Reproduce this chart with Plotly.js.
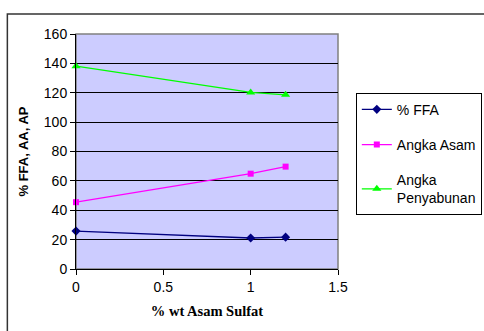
<!DOCTYPE html>
<html><head><meta charset="utf-8">
<script src="https://cdn.plot.ly/plotly-3.0.1.min.js"></script>
<style>body{margin:0;background:#fff}#c{width:484px;height:331px}</style>
</head><body><div id="c"></div>
<script>
const xVals = [0, 1, 1.2];
const ffa = [25.8, 21.1, 21.7];
const angkaAsam = [45.5, 64.9, 69.7];
const angkaPenyabunan = [138.1, 120.2, 118.6];
const seriesNames = ["% FFA", "Angka Asam", "Angka<br>Penyabunan"];

const traces = [
  {x: xVals, y: ffa, name: seriesNames[0], mode: 'lines+markers', legendgroup: 'a', cliponaxis: false,
   line: {color: '#000080', width: 1.3}, marker: {symbol: 'diamond', size: 7, color: '#000080'}},
  {x: xVals, y: angkaAsam, name: seriesNames[1], mode: 'lines+markers', legendgroup: 'b', cliponaxis: false,
   line: {color: '#ff00ff', width: 1.3}, marker: {symbol: 'square', size: 6, color: '#ff00ff'}},
  {x: xVals, y: angkaPenyabunan, name: seriesNames[2], mode: 'lines+markers', legendgroup: 'c', cliponaxis: false,
   line: {color: '#00ff00', width: 1.3}, marker: {symbol: 'triangle-up', size: 8, color: '#00ff00'}}
];

const layout = {
  width: 484, height: 331,
  margin: {l: 76, r: 146, t: 34, b: 62, autoexpand: false},
  paper_bgcolor: '#fff', plot_bgcolor: '#ccccff',
  font: {family: 'Arial, Liberation Sans, sans-serif', size: 14, color: '#000'},
  showlegend: true,
  legend: {x: 1.068, y: 0.75, xanchor: 'left', yanchor: 'top', bordercolor: '#000', borderwidth: 1,
    bgcolor: '#fff', font: {size: 14}, traceorder: 'grouped', tracegroupgap: 14, itemwidth: 30},
  xaxis: {range: [0, 1.5], tickvals: [0, 0.5, 1, 1.5], ticktext: ['0','0.5','1','1.5'],
    showgrid: false, zeroline: false, showline: true, linecolor: '#000', linewidth: 1,
    ticks: 'outside', ticklen: 5, tickcolor: '#000',
    title: {text: '<b>% wt Asam Sulfat</b>', font: {family: 'Liberation Serif, Times New Roman, serif', size: 14.5}, standoff: 12}},
  yaxis: {range: [0, 160], dtick: 20, showgrid: true, gridcolor: '#000', gridwidth: 1,
    zeroline: false, showline: true, linecolor: '#000', linewidth: 1,
    ticks: 'outside', ticklen: 5, tickcolor: '#000',
    title: {text: '<b>% FFA, AA, AP</b>', font: {size: 13}, standoff: 12}},
  shapes: [
    {type: 'rect', xref: 'paper', yref: 'paper', x0: 0, x1: 1, y0: 0, y1: 1,
     line: {color: '#808080', width: 1.5}, layer: 'below'},
    {type: 'rect', xref: 'paper', yref: 'paper', x0: -0.262, x1: 1.6, y0: -0.5, y1: 1.085,
     line: {color: '#333', width: 1.5}}
  ]
};
Plotly.newPlot('c', traces, layout, {staticPlot: true});
</script></body></html>
